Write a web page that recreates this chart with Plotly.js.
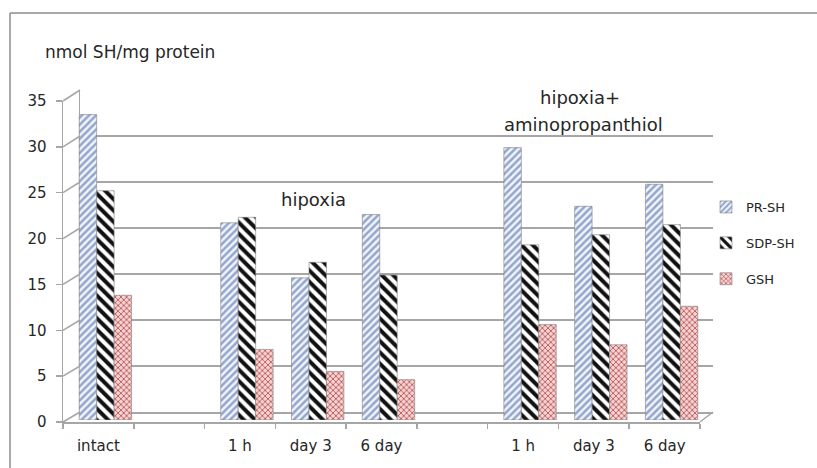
<!DOCTYPE html>
<html>
<head>
<meta charset="utf-8">
<script src="https://cdn.plot.ly/plotly-3.0.1.min.js"></script>
<style>
  html, body { margin: 0; padding: 0; background: #fff; }
  #chart { width: 817px; height: 468px; }
</style>
</head>
<body>
<div id="chart"></div>
<script>
// Thiol content by condition
const categories = ['intact', '', '1 h', 'day 3', '6 day', '', '1 h', 'day 3', '6 day'];
const prSH  = [33.3, null, 21.5, 15.5, 22.4, null, 29.7, 23.3, 25.7];
const sdpSH = [25.0, null, 22.1, 17.2, 15.8, null, 19.1, 20.2, 21.3];
const gsh   = [13.6, null, 7.7, 5.3, 4.4, null, 10.4, 8.2, 12.4];
const seriesNames = ['PR-SH', 'SDP-SH', 'GSH'];
const yTicks = [0, 5, 10, 15, 20, 25, 30, 35];
const yMax = 35;

const W = 817, H = 468;
const px = x => x / W;          // pixel -> paper x
const py = y => 1 - y / H;      // pixel -> paper y

// pseudo-3D frame: front plane (labels), bar plane, back wall (grid)
const FRONT = { x0: 63, x1: 700, yTop: 101, yBase: 422 };
const BARS  = { x0: 70, x1: 707, yTop: 99,  yBase: 420 };
const BACK  = { x0: 80, x1: 713, yTop: 90,  yBase: 412 };

const idx = categories.map((_, i) => i);
const xRange = [-0.5, categories.length - 0.5];
const edge = '#a6a6a6';
const font = 'DejaVu Sans, Verdana, sans-serif';

const styles = [
  { shape: '/',  fgcolor: '#93a6cc', bgcolor: '#f1f4fa', size: 5, solidity: 0.5 },
  { shape: '\\', fgcolor: '#111111', bgcolor: '#ffffff', size: 8, solidity: 0.5 },
  { shape: 'x',  fgcolor: '#bf5656', bgcolor: '#f3d3d3', size: 4, solidity: 0.4 }
];
const series = [prSH, sdpSH, gsh];

const traces = [
  { type: 'scatter', x: [], y: [], xaxis: 'x', yaxis: 'y', showlegend: false, hoverinfo: 'skip' },
  { type: 'scatter', x: [], y: [], xaxis: 'x3', yaxis: 'y3', showlegend: false, hoverinfo: 'skip' }
];
series.forEach((vals, k) => {
  traces.push({
    type: 'bar', name: seriesNames[k], x: idx, y: vals,
    xaxis: 'x2', yaxis: 'y2', legendgroup: 'g' + k,
    marker: { color: styles[k].bgcolor, pattern: styles[k], line: { color: '#7f7f7f', width: 0.6 } }
  });
});

// depth connectors for each y tick plus the right floor edge
const frontY = v => FRONT.yBase - (FRONT.yBase - FRONT.yTop) * v / yMax;
const backY  = v => BACK.yBase - (BACK.yBase - BACK.yTop) * v / yMax;
const shapes = yTicks.map(v => ({
  type: 'line', xref: 'paper', yref: 'paper',
  x0: px(FRONT.x0), y0: py(frontY(v)), x1: px(BACK.x0), y1: py(backY(v)),
  line: { color: edge, width: 1.5 }
}));
shapes.push({ type: 'line', xref: 'paper', yref: 'paper',
  x0: px(FRONT.x1), y0: py(FRONT.yBase), x1: px(BACK.x1), y1: py(BACK.yBase),
  line: { color: edge, width: 1.5 } });
// chart border
shapes.push({ type: 'line', xref: 'paper', yref: 'paper', x0: px(10), y0: py(13), x1: px(10), y1: 0,
  line: { color: '#8c8c8c', width: 1.5 } });
shapes.push({ type: 'line', xref: 'paper', yref: 'paper', x0: px(10), y0: py(13), x1: 1, y1: py(13),
  line: { color: '#8c8c8c', width: 1.5 } });

const ann = (text, x, y, size, anchor) => ({
  text, xref: 'paper', yref: 'paper', x: px(x), y: py(y), showarrow: false,
  xanchor: anchor || 'center', yanchor: 'middle', font: { family: font, size, color: '#262626' }
});

const layout = {
  width: W, height: H,
  margin: { l: 0, r: 0, t: 0, b: 0 },
  paper_bgcolor: '#ffffff', plot_bgcolor: 'rgba(0,0,0,0)',
  font: { family: font, color: '#262626' },
  barmode: 'group', bargap: 0.26, bargroupgap: 0,
  showlegend: true,
  legend: { x: px(706), y: py(192), xanchor: 'left', yanchor: 'top',
    font: { family: font, size: 13, color: '#262626' }, tracegroupgap: 16, bgcolor: 'rgba(0,0,0,0)' },
  // back wall
  xaxis: { domain: [px(BACK.x0), px(BACK.x1)], range: xRange, showgrid: false, zeroline: false,
    showticklabels: false, ticks: '', showline: true, linecolor: edge, linewidth: 1.5, fixedrange: true },
  yaxis: { domain: [py(BACK.yBase), py(BACK.yTop)], range: [0, yMax], tickmode: 'array', tickvals: yTicks,
    showgrid: true, gridcolor: edge, gridwidth: 1.5, zeroline: false, showline: true, linecolor: edge,
    linewidth: 1.5, showticklabels: false, ticks: '', fixedrange: true },
  // bars
  xaxis2: { domain: [px(BARS.x0), px(BARS.x1)], range: xRange, visible: false, anchor: 'y2', fixedrange: true },
  yaxis2: { domain: [py(BARS.yBase), py(BARS.yTop)], range: [0, yMax], visible: false, anchor: 'x2', fixedrange: true },
  // front frame with labels
  xaxis3: { domain: [px(FRONT.x0), px(FRONT.x1)], range: xRange, anchor: 'y3', showgrid: false, zeroline: false,
    showline: true, linecolor: edge, linewidth: 1.5, tickmode: 'array', tickvals: idx, ticktext: categories,
    ticks: '', ticklabelstandoff: 9, tickfont: { family: font, size: 15, color: '#262626' },
    minor: { ticks: 'outside', ticklen: 5, tickcolor: edge, tickwidth: 1.5, tickmode: 'linear', tick0: -0.5, dtick: 1 },
    fixedrange: true },
  yaxis3: { domain: [py(FRONT.yBase), py(FRONT.yTop)], range: [0, yMax], anchor: 'x3', tickmode: 'array',
    tickvals: yTicks, showgrid: false, zeroline: false, showline: true, linecolor: edge, linewidth: 1.5,
    ticks: 'outside', ticklen: 6, tickcolor: edge, tickwidth: 1.5, ticklabelstandoff: 6,
    tickfont: { family: font, size: 15, color: '#262626' }, fixedrange: true },
  shapes,
  annotations: [
    ann('nmol SH/mg protein', 43, 52, 17, 'left'),
    ann('hipoxia', 313, 199, 18),
    ann('hipoxia+', 580, 97, 18),
    ann('aminopropanthiol', 583, 125, 18)
  ]
};

Plotly.newPlot('chart', traces, layout, { displayModeBar: false, staticPlot: true });
</script>
</body>
</html>
